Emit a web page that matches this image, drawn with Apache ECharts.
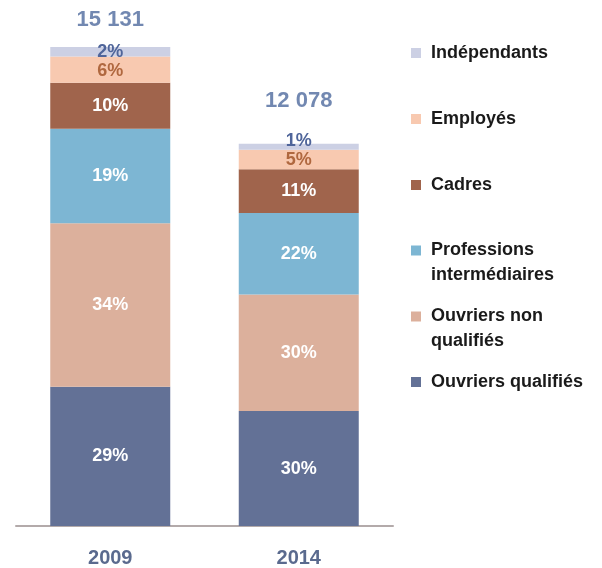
<!DOCTYPE html>
<html>
<head>
<meta charset="utf-8">
<script src="https://cdn.jsdelivr.net/npm/echarts@6/dist/echarts.min.js"></script>
<style>
  html, body { margin: 0; padding: 0; background: #fff; }
  #chart { width: 602px; height: 568px; }
</style>
</head>
<body>
<div id="chart"></div>
<script>
// data (counts, bottom to top)
const years = ['2009', '2014']
const totals = [15131, 12078]
const ouvriersQualifies = [4400, 3629]
const ouvriersNonQualifies = [5160, 3683]
const professions = [2990, 2572]
const cadres = [1450, 1385]
const employes = [830, 620]
const independants = [301, 189]
// printed shares
const pctOQ = [29, 30]
const pctONQ = [34, 30]
const pctProf = [19, 22]
const pctCadres = [10, 11]
const pctEmp = [6, 5]
const pctIndep = [2, 1]

const font = 'Liberation Sans'
const chart = echarts.init(document.getElementById('chart'))

function stackSeries(name, data, pct, color, labelColor, offsets) {
  return {
    name: name,
    type: 'bar',
    stack: 'all',
    barWidth: 120,
    data: data.map((v, i) => ({
      value: v,
      label: offsets ? {offset: offsets[i]} : undefined
    })),
    itemStyle: {color: color},
    label: {
      show: true,
      position: 'inside',
      color: labelColor,
      fontFamily: font,
      fontWeight: 'bold',
      fontSize: 18,
      formatter: p => pct[p.dataIndex] + '%'
    }
  }
}

// one legend per entry so the uneven spacing can be matched
// two-line names get an empty first line so the square sits on the first text line
function legendAt(name, top, multi) {
  return {
    data: [name],
    left: 411,
    top: top,
    padding: 0,
    itemWidth: 10,
    itemHeight: 10,
    icon: 'rect',
    selectedMode: false,
    formatter: n => multi ? '\n' + n.replace('|', '\n') : n,
    textStyle: {
      fontFamily: font,
      fontWeight: 'bold',
      fontSize: 18,
      color: '#1a1a1a',
      lineHeight: multi ? 25 : 20,
      padding: [0, 0, 0, 5]
    }
  }
}

const option = {
  animation: false,
  grid: {left: 16, right: 209, top: 47, bottom: 40},
  legend: [
    legendAt('Indépendants', 43),
    legendAt('Employés', 109),
    legendAt('Cadres', 175),
    legendAt('Professions|intermédiaires', 213, true),
    legendAt('Ouvriers non|qualifiés', 279, true),
    legendAt('Ouvriers qualifiés', 372)
  ],
  xAxis: {
    type: 'category',
    data: years,
    axisTick: {show: false},
    axisLine: {lineStyle: {color: '#b3aaaa', width: 2}},
    axisLabel: {
      margin: 22,
      fontFamily: font,
      fontWeight: 'bold',
      fontSize: 20,
      color: '#5a6a8e'
    }
  },
  yAxis: {
    type: 'value',
    min: 0,
    max: 15131,
    show: false,
    splitLine: {show: false}
  },
  series: [
    stackSeries('Ouvriers qualifiés', ouvriersQualifies, pctOQ, '#637196', '#ffffff'),
    stackSeries('Ouvriers non|qualifiés', ouvriersNonQualifies, pctONQ, '#dcb09c', '#ffffff'),
    stackSeries('Professions|intermédiaires', professions, pctProf, '#7db6d3', '#ffffff'),
    stackSeries('Cadres', cadres, pctCadres, '#a0644c', '#ffffff'),
    stackSeries('Employés', employes, pctEmp, '#f8c9b0', '#b0683f', [[0, 1], [0, 1]]),
    stackSeries('Indépendants', independants, pctIndep, '#ccd0e4', '#4f659a', [[0, 0], [0, -6]]),
    {
      name: 'total',
      type: 'scatter',
      symbolSize: 0,
      data: totals.map((v, i) => ({
        value: v,
        label: {offset: i === 0 ? [0, -27] : [0, -43]}
      })),
      label: {
        show: true,
        position: 'inside',
        fontFamily: font,
        fontWeight: 'bold',
        fontSize: 22,
        color: '#4f6a9e',
        formatter: p => String(p.value).replace(/\B(?=(\d{3})+(?!\d))/g, ' ')
      }
    }
  ]
}
chart.setOption(option)
</script>
</body>
</html>
